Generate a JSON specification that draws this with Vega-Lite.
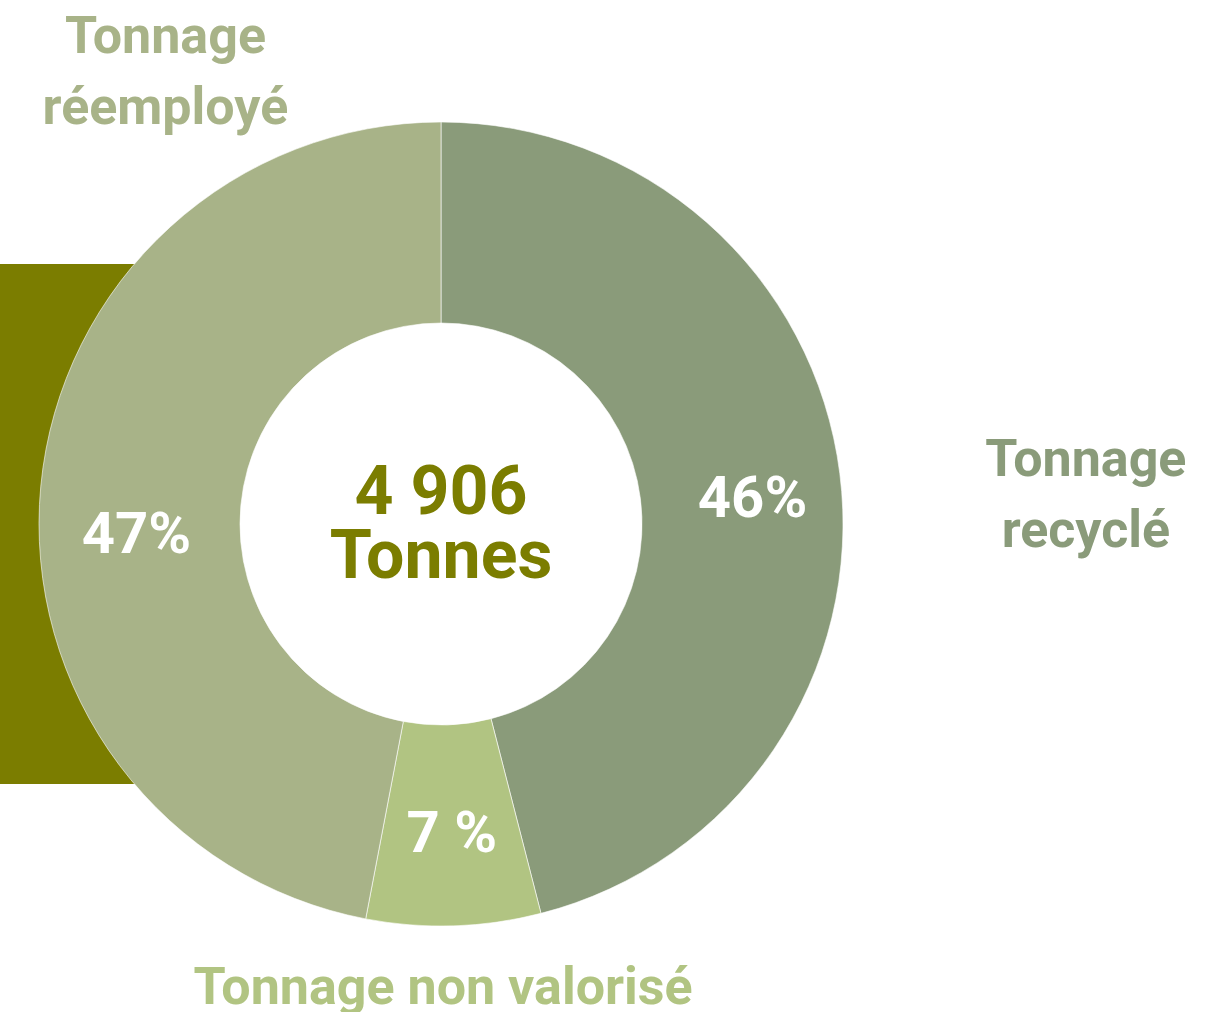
{
  "$schema": "https://vega.github.io/schema/vega-lite/v6.json",
  "width": 882,
  "height": 976,
  "autosize": {"type": "none"},
  "padding": {"left": 0, "top": 36, "right": 340, "bottom": 0},
  "background": "#ffffff",
  "config": {"view": {"stroke": null}, "text": {"font": "Roboto", "fontWeight": "bold"}},
  "data": {
    "values": [
      {"categorie": "Tonnage recyclé", "libelle": "Tonnage\nrecyclé", "part": 46, "etiquette": "46%", "rang": 1},
      {"categorie": "Tonnage non valorisé", "libelle": "Tonnage non valorisé", "part": 7, "etiquette": "7 %", "rang": 2},
      {"categorie": "Tonnage réemployé", "libelle": "Tonnage\nréemployé", "part": 47, "etiquette": "47%", "rang": 3}
    ]
  },
  "layer": [
    {
      "data": {"values": [{"bloc": "décor"}]},
      "mark": {"type": "rect", "color": "#7b7d00", "x": 0, "x2": 135, "y": 228, "y2": 748},
      "encoding": {}
    },
    {
      "mark": {"type": "arc", "outerRadius": 402, "innerRadius": 201, "stroke": "#ffffff", "strokeWidth": 0.6},
      "encoding": {
        "theta": {"field": "part", "type": "quantitative", "stack": true},
        "order": {"field": "rang", "type": "quantitative"},
        "color": {
          "field": "categorie",
          "type": "nominal",
          "scale": {"domain": ["Tonnage recyclé", "Tonnage non valorisé", "Tonnage réemployé"], "range": ["#8a9b7a", "#b1c482", "#a8b388"]},
          "legend": null
        }
      }
    },
    {
      "mark": {"type": "text", "radius": 311, "dx": 3, "dy": 15, "fontSize": 58, "color": "#ffffff", "align": "center", "baseline": "middle"},
      "encoding": {
        "theta": {"field": "part", "type": "quantitative", "stack": true},
        "order": {"field": "rang", "type": "quantitative"},
        "text": {"condition": {"test": "datum.rang == 1", "field": "etiquette"}, "value": ""}
      }
    },
    {
      "mark": {"type": "text", "radius": 311, "dx": 1, "fontSize": 58, "color": "#ffffff", "align": "center", "baseline": "middle"},
      "encoding": {
        "theta": {"field": "part", "type": "quantitative", "stack": true},
        "order": {"field": "rang", "type": "quantitative"},
        "text": {"condition": {"test": "datum.rang == 2", "field": "etiquette"}, "value": ""}
      }
    },
    {
      "mark": {"type": "text", "radius": 305, "dx": -1, "dy": 41, "fontSize": 58, "color": "#ffffff", "align": "center", "baseline": "middle"},
      "encoding": {
        "theta": {"field": "part", "type": "quantitative", "stack": true},
        "order": {"field": "rang", "type": "quantitative"},
        "text": {"condition": {"test": "datum.rang == 3", "field": "etiquette"}, "value": ""}
      }
    },
    {
      "mark": {"type": "text", "radius": 647, "dx": 3, "dy": 33, "fontSize": 52, "lineHeight": 71, "lineBreak": "\n", "color": "#8a9b7a", "align": "center", "baseline": "alphabetic"},
      "encoding": {
        "theta": {"field": "part", "type": "quantitative", "stack": true},
        "order": {"field": "rang", "type": "quantitative"},
        "text": {"condition": {"test": "datum.rang == 1", "field": "libelle"}, "value": ""}
      }
    },
    {
      "mark": {"type": "text", "radius": 480, "dx": -13, "fontSize": 52, "lineHeight": 71, "lineBreak": "\n", "color": "#b1c482", "align": "center", "baseline": "alphabetic"},
      "encoding": {
        "theta": {"field": "part", "type": "quantitative", "stack": true},
        "order": {"field": "rang", "type": "quantitative"},
        "text": {"condition": {"test": "datum.rang == 2", "field": "libelle"}, "value": ""}
      }
    },
    {
      "mark": {"type": "text", "radius": 546, "dx": 268, "dy": -420, "fontSize": 52, "lineHeight": 71, "lineBreak": "\n", "color": "#a8b388", "align": "center", "baseline": "alphabetic"},
      "encoding": {
        "theta": {"field": "part", "type": "quantitative", "stack": true},
        "order": {"field": "rang", "type": "quantitative"},
        "text": {"condition": {"test": "datum.rang == 3", "field": "libelle"}, "value": ""}
      }
    },
    {
      "data": {"values": [{"total": "4 906\nTonnes"}]},
      "mark": {"type": "text", "dy": -10, "fontSize": 68, "lineHeight": 64, "lineBreak": "\n", "color": "#7b7d00", "align": "center", "baseline": "alphabetic"},
      "encoding": {"text": {"field": "total"}}
    }
  ]
}
